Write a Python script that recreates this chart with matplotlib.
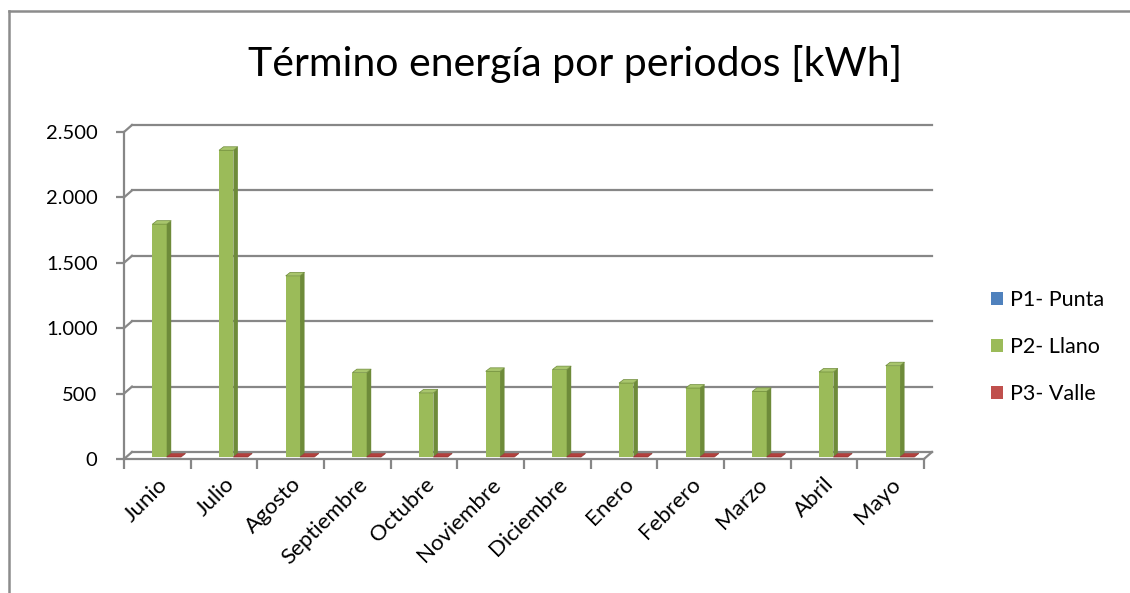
import numpy as np
import matplotlib
matplotlib.use("Agg")
import matplotlib.pyplot as plt
from matplotlib.patches import Polygon, Rectangle, Patch
from matplotlib.lines import Line2D
from matplotlib.ticker import FuncFormatter

plt.rcParams['font.family'] = ['Lato', 'DejaVu Sans']

# ---- data ----
months = ["Junio", "Julio", "Agosto", "Septiembre", "Octubre", "Noviembre",
          "Diciembre", "Enero", "Febrero", "Marzo", "Abril", "Mayo"]
p1_punta = [np.nan] * 12
p2_llano = [1780, 2345, 1385, 645, 490, 655, 668, 565, 527, 502, 650, 698]
p3_valle = [0] * 12
series_names = ["P1- Punta", "P2- Llano", "P3- Valle"]
yticks = [0, 500, 1000, 1500, 2000, 2500]

# ---- style ----
front_col = ["#4F81BD", "#9BBB59", "#C0504D"]
side_col = ["#3A6395", "#6E8B3A", "#8E3431"]
top_col = ["#6A96CC", "#A8C56C", "#B3403D"]
grid_col = "#878787"
FS = 15.5

W, H, DPI = 11.3, 5.93, 100
fig = plt.figure(figsize=(W, H), dpi=DPI)
fig.patch.set_facecolor("white")
FW, FH = W * DPI, H * DPI
ax = fig.add_axes([124 / FW, (FH - 459) / FH, 800 / FW, 327 / FH])
ax.set_xlim(0, 12)
ax.set_ylim(0, 2500)
ax.set_facecolor("none")

# pixel -> data conversion
sx = 12 / 800.0
sy = 2500 / 327.0
def px(dx, dy):
    return dx * sx, dy * sy

# back wall gridlines
wx, wy = px(8, 7)
lw = 1.6
for v in yticks:
    ax.add_line(Line2D([wx, 12 + wx], [v + wy, v + wy], color=grid_col, lw=lw, clip_on=False, zorder=1))
    ax.add_line(Line2D([0, wx], [v, v + wy], color=grid_col, lw=lw, clip_on=False, zorder=1))
ax.add_line(Line2D([12, 12 + wx], [0, wy], color=grid_col, lw=lw, clip_on=False, zorder=1))

# spines / ticks
for s in ["top", "right"]:
    ax.spines[s].set_visible(False)
for s in ["left", "bottom"]:
    ax.spines[s].set_color(grid_col)
    ax.spines[s].set_linewidth(lw)
    ax.spines[s].set_zorder(0.5)
ax.set_yticks(yticks)
ax.yaxis.set_major_formatter(FuncFormatter(lambda v, p: f"{int(v):,}".replace(",", ".")))
ax.tick_params(axis="y", length=6, width=lw, color=grid_col, labelsize=14.5, pad=13, labelcolor="black")
ax.set_xticks(np.arange(13))
ax.set_xticklabels([])
ax.set_xticks(np.arange(12) + 0.5, minor=True)
ax.set_xticklabels(months, minor=True, rotation=45, ha="right", rotation_mode="anchor", fontsize=16)
ax.tick_params(axis="x", which="major", length=7, width=lw, color=grid_col)
ax.tick_params(axis="x", which="minor", length=0, pad=11)

# bars (3D-ish)
bw = 0.215
offs = [-bw, 0, bw]
bdx, bdy = px(2.2, 2)
ddx, ddy = px(4.5, 3.5)
all_series = [p1_punta, p2_llano, p3_valle]
for i in range(12):
    for s, vals in enumerate(all_series):
        v = vals[i]
        if v is None or np.isnan(v):
            continue
        xc = i + 0.5 + offs[s] + bdx
        xl, xr = xc - bw / 2, xc + bw / 2
        b0 = bdy
        t = v + bdy
        if v > 0:
            ax.add_patch(Rectangle((xl, b0), bw, v, facecolor=front_col[s], edgecolor="none", zorder=3, clip_on=False))
            ax.add_patch(Polygon([(xr, b0), (xr, t), (xr + ddx, t + ddy), (xr + ddx, b0 + ddy)],
                                 closed=True, facecolor=side_col[s], edgecolor="none", zorder=3, clip_on=False))
        ax.add_patch(Polygon([(xl, t), (xr, t), (xr + ddx, t + ddy), (xl + ddx, t + ddy)],
                             closed=True, facecolor=top_col[s], edgecolor=side_col[s], lw=0.5, zorder=3, clip_on=False))

# title
fig.text(575 / FW, 1 - 64 / FH, "Término energía por periodos [kWh]", ha="center", va="center", fontsize=29.5)

# legend
handles = [Patch(facecolor=c, edgecolor="none") for c in front_col]
fig.legend(handles, series_names, loc="upper left", bbox_to_anchor=(972 / FW, 1 - 271 / FH),
           frameon=False, fontsize=FS, handlelength=0.55, handleheight=0.55,
           handletextpad=0.3, labelspacing=1.24)

# outer border (top and left)
fig.add_artist(Line2D([8.5 / FW, 1], [1 - 11 / FH, 1 - 11 / FH], transform=fig.transFigure, color="#8C8C8C", lw=1.8))
fig.add_artist(Line2D([8.5 / FW, 8.5 / FW], [0, 1 - 11 / FH], transform=fig.transFigure, color="#8C8C8C", lw=1.8))

fig.savefig("out.png", dpi=DPI, facecolor="white")
